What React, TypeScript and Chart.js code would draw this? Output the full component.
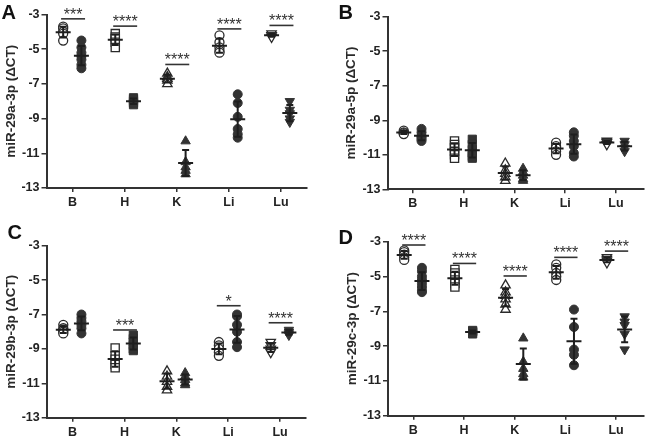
import React, { useEffect, useRef } from 'react';
import { Chart, registerables } from 'chart.js';
Chart.register(...registerables);

const W = 651;
const H = 438;
const FONT = "'Liberation Sans', Arial, Helvetica, sans-serif";

const categories = ['B', 'H', 'K', 'Li', 'Lu'];
const yTicks = [-13, -11, -9, -7, -5, -3];

// Panel A: miR-29a-3p
const a3pCtrl = [
  [-3.7, -3.8, -4.0, -4.1, -4.5],
  [-4.1, -4.3, -4.4, -4.6, -4.9],
  [-6.4, -6.6, -6.7, -6.8, -7.0],
  [-4.2, -4.6, -4.9, -5.1, -5.2],
  [-4.1, -4.2, -4.2, -4.3],
];
const a3pTreat = [
  [-4.5, -4.9, -5.2, -5.4, -5.6, -5.9, -6.1],
  [-7.8, -7.9, -8.0, -8.1, -8.2],
  [-10.3, -11.5, -11.8, -12.0, -12.2],
  [-7.6, -8.1, -8.9, -9.6, -9.9, -10.1],
  [-8.0, -8.5, -8.7, -9.0, -9.2],
];
const a3pSigY = [-3.25, -3.67, -5.88, -3.83, -3.63];
const a3pSigText = ['***', '****', '****', '****', '****'];

// Panel B: miR-29a-5p
const a5pCtrl = [
  [-9.6, -9.7, -9.75, -9.8],
  [-10.2, -10.4, -10.6, -10.8, -11.0, -11.2],
  [-11.5, -11.9, -12.1, -12.3, -12.5],
  [-10.3, -10.5, -10.6, -10.8, -11.0],
  [-10.2, -10.25, -10.3, -10.4],
];
const a5pTreat = [
  [-9.5, -9.7, -9.9, -10.0, -10.1, -10.2],
  [-10.1, -10.4, -10.7, -10.9, -11.1, -11.2],
  [-11.8, -12.0, -12.2, -12.4, -12.5],
  [-9.7, -9.9, -10.2, -10.5, -10.9, -11.1],
  [-10.2, -10.4, -10.6, -10.8],
];
const a5pSigY: (number | null)[] = [null, null, null, null, null];
const a5pSigText = ['', '', '', '', ''];

// Panel C: miR-29b-3p
const b3pCtrl = [
  [-7.6, -7.8, -7.9, -8.0, -8.1],
  [-8.95, -9.4, -9.6, -9.9, -10.1],
  [-10.3, -10.6, -10.9, -11.2, -11.4],
  [-8.6, -8.8, -9.0, -9.2, -9.4],
  [-8.6, -8.8, -9.0, -9.1, -9.2],
];
const b3pTreat = [
  [-7.0, -7.2, -7.4, -7.6, -7.8, -8.1],
  [-8.2, -8.4, -8.6, -8.8, -9.0, -9.1],
  [-10.4, -10.6, -10.8, -11.0, -11.1],
  [-7.0, -7.1, -7.6, -8.0, -8.6, -8.9],
  [-7.9, -8.0, -8.1, -8.2],
];
const b3pSigY: (number | null)[] = [null, -7.9, null, -6.49, -7.48];
const b3pSigText = ['', '***', '', '*', '****'];

// Panel D: miR-29c-3p
const c3pCtrl = [
  [-3.5, -3.6, -3.75, -3.9, -4.05],
  [-4.6, -4.8, -5.0, -5.2, -5.4, -5.6],
  [-5.5, -5.9, -6.1, -6.3, -6.6, -6.9],
  [-4.3, -4.5, -4.8, -5.0, -5.2],
  [-3.9, -4.0, -4.1, -4.2],
];
const c3pTreat = [
  [-4.5, -4.7, -5.0, -5.2, -5.4, -5.6, -5.8, -5.9],
  [-8.1, -8.15, -8.2, -8.3],
  [-8.55, -9.9, -10.3, -10.6, -10.8],
  [-6.9, -7.9, -9.2, -9.5, -10.1],
  [-7.3, -7.6, -7.8, -8.3, -9.2],
];
const c3pSigY = [-3.19, -4.25, -4.97, -3.9, -3.54];
const c3pSigText = ['****', '****', '****', '****', '****'];

const pointStyles = ['circle', 'rect', 'triangle', 'circle', 'triangle'];
const pointRotations = [0, 0, 0, 0, 180];
const pointRadii = [4.5, 5.8, 5.4, 4.5, 5.4];

type PanelDef = {
  letter: string;
  letterX: number;
  letterY: number;
  title: string;
  ctrl: number[][];
  treat: number[][];
  sigY: (number | null)[];
  sigText: string[];
  left: number;
  right: number;
  top: number;
  bottom: number;
  titleCenter: number;
  xMax: number;
};

const panels: PanelDef[] = [
  { letter: 'A', letterX: 1.5, letterY: 18.5, title: 'miR-29a-3p (\u0394CT)', ctrl: a3pCtrl, treat: a3pTreat, sigY: a3pSigY, sigText: a3pSigText,
    left: 46.5, right: 307, top: 14.5, bottom: 188, titleCenter: 11, xMax: 5.5 },
  { letter: 'B', letterX: 338.6, letterY: 18.5, title: 'miR-29a-5p (\u0394CT)', ctrl: a5pCtrl, treat: a5pTreat, sigY: a5pSigY, sigText: a5pSigText,
    left: 387.5, right: 651, top: 16.7, bottom: 189.3, titleCenter: 350.8, xMax: 5.55 },
  { letter: 'C', letterX: 7.5, letterY: 238.5, title: 'miR-29b-3p (\u0394CT)', ctrl: b3pCtrl, treat: b3pTreat, sigY: b3pSigY, sigText: b3pSigText,
    left: 46.7, right: 306, top: 245.7, bottom: 417.7, titleCenter: 10.8, xMax: 5.5 },
  { letter: 'D', letterX: 338.6, letterY: 243.5, title: 'miR-29c-3p (\u0394CT)', ctrl: c3pCtrl, treat: c3pTreat, sigY: c3pSigY, sigText: c3pSigText,
    left: 388, right: 651, top: 241.7, bottom: 415.7, titleCenter: 352, xMax: 5.55 },
];

const CTRL_OFF = -0.18;
const TREAT_OFF = 0.17;
const INK = '#2a2a2a';
const TITLE_SIZE = 13.5;
const X_AXIS_H = 20;

function meanSd(v: number[]) {
  const m = v.reduce((a, b) => a + b, 0) / v.length;
  const s = v.length > 1 ? Math.sqrt(v.reduce((a, b) => a + (b - m) * (b - m), 0) / (v.length - 1)) : 0;
  return [m, s];
}

function buildConfig(p: PanelDef): any {
  const datasets: any[] = [];
  categories.forEach((_, i) => {
    datasets.push({
      data: p.ctrl[i].map((y) => ({ x: i + 1 + CTRL_OFF, y })),
      pointStyle: pointStyles[i],
      rotation: pointRotations[i],
      pointRadius: pointRadii[i],
      backgroundColor: '#ffffff',
      borderColor: INK,
      borderWidth: 1.3,
      showLine: false,
      clip: false,
    });
    datasets.push({
      data: p.treat[i].map((y) => ({ x: i + 1 + TREAT_OFF, y })),
      pointStyle: pointStyles[i],
      rotation: pointRotations[i],
      pointRadius: pointRadii[i],
      backgroundColor: '#333333',
      borderColor: '#333333',
      borderWidth: 1,
      showLine: false,
      clip: false,
    });
  });

  const overlay = {
    id: 'overlay' + p.letter,
    afterDatasetsDraw(chart: any) {
      const ctx = chart.ctx;
      const xs = chart.scales.x;
      const ys = chart.scales.y;
      ctx.save();
      ctx.strokeStyle = '#1e1e1e';
      ctx.lineWidth = 2;
      chart.data.datasets.forEach((ds: any) => {
        const vals = ds.data.map((d: any) => d.y);
        const [m, s] = meanSd(vals);
        const px = xs.getPixelForValue(ds.data[0].x);
        const pm = ys.getPixelForValue(m);
        const pt = ys.getPixelForValue(m + s);
        const pb = ys.getPixelForValue(m - s);
        ctx.beginPath();
        ctx.moveTo(px - 7.5, pm); ctx.lineTo(px + 7.5, pm);
        ctx.moveTo(px, pt); ctx.lineTo(px, pb);
        ctx.moveTo(px - 3.5, pt); ctx.lineTo(px + 3.5, pt);
        ctx.moveTo(px - 3.5, pb); ctx.lineTo(px + 3.5, pb);
        ctx.stroke();
      });
      // significance bars
      ctx.lineWidth = 1.6;
      ctx.strokeStyle = '#333';
      ctx.fillStyle = '#333';
      ctx.font = `16px ${FONT}`;
      ctx.textAlign = 'center';
      ctx.textBaseline = 'alphabetic';
      p.sigY.forEach((sy, i) => {
        if (sy === null || sy === undefined) return;
        const x0 = xs.getPixelForValue(i + 1 - 0.22);
        const x1 = xs.getPixelForValue(i + 1 + 0.24);
        const py = ys.getPixelForValue(sy);
        ctx.beginPath();
        ctx.moveTo(x0, py); ctx.lineTo(x1, py);
        ctx.stroke();
        ctx.fillText(p.sigText[i], (x0 + x1) / 2, py + 1);
      });
      // panel letter
      ctx.font = `bold 20px ${FONT}`;
      ctx.textAlign = 'left';
      ctx.fillStyle = '#111';
      ctx.fillText(p.letter, p.letterX, p.letterY);
      ctx.restore();
    },
  };

  const lh = TITLE_SIZE * 1.2;
  const scaleLeft = p.titleCenter - lh / 2;
  const yAxisW = p.left - scaleLeft;

  return {
    type: 'scatter',
    data: { datasets },
    plugins: [overlay],
    options: {
      animation: false,
      responsive: false,
      maintainAspectRatio: false,
      events: [],
      layout: {
        padding: {
          left: scaleLeft,
          right: W - p.right,
          top: p.top,
          bottom: H - p.bottom - X_AXIS_H,
        },
      },
      plugins: { legend: { display: false }, tooltip: { enabled: false } },
      scales: {
        x: {
          type: 'linear',
          min: 0.5,
          max: p.xMax,
          afterBuildTicks: (s: any) => { s.ticks = categories.map((_, i) => ({ value: i + 1 })); },
          afterFit: (s: any) => { s.height = X_AXIS_H; },
          ticks: {
            callback: (v: any) => categories[Math.round(Number(v)) - 1] ?? '',
            font: { family: FONT, size: 12.5, weight: 'bold' },
            color: '#222',
            padding: 3,
            autoSkip: false,
            maxRotation: 0,
          },
          grid: { display: true, drawOnChartArea: false, drawTicks: true, tickLength: 4, color: '#333', lineWidth: 1.5 },
          border: { display: true, color: '#333', width: 2 },
        },
        y: {
          type: 'linear',
          min: -13,
          max: -3,
          afterBuildTicks: (s: any) => { s.ticks = yTicks.map((v) => ({ value: v })); },
          afterFit: (s: any) => { s.width = yAxisW; },
          ticks: {
            callback: (v: any) => String(v),
            font: { family: FONT, size: 12.5, weight: 'bold' },
            color: '#222',
            padding: 2,
            autoSkip: false,
          },
          grid: { display: true, drawOnChartArea: false, drawTicks: true, tickLength: 5, color: '#333', lineWidth: 1.5 },
          border: { display: true, color: '#333', width: 2 },
          title: {
            display: true,
            text: p.title,
            font: { family: FONT, size: TITLE_SIZE, weight: 'bold' },
            color: '#2a2a2a',
            padding: { top: 0, bottom: 0 },
          },
        },
      },
    },
  };
}

function Panel({ p }: { p: PanelDef }) {
  const ref = useRef<HTMLCanvasElement>(null);
  useEffect(() => {
    const chart = new Chart(ref.current as HTMLCanvasElement, buildConfig(p));
    return () => chart.destroy();
  }, [p]);
  return (
    <canvas
      ref={ref}
      width={W}
      height={H}
      style={{ position: 'absolute', left: 0, top: 0, width: W, height: H }}
    />
  );
}

export default function App() {
  return (
    <div style={{ position: 'absolute', left: 0, top: 0, width: W, height: H, background: '#fff', overflow: 'hidden' }}>
      {panels.map((p) => (
        <Panel key={p.letter} p={p} />
      ))}
    </div>
  );
}
